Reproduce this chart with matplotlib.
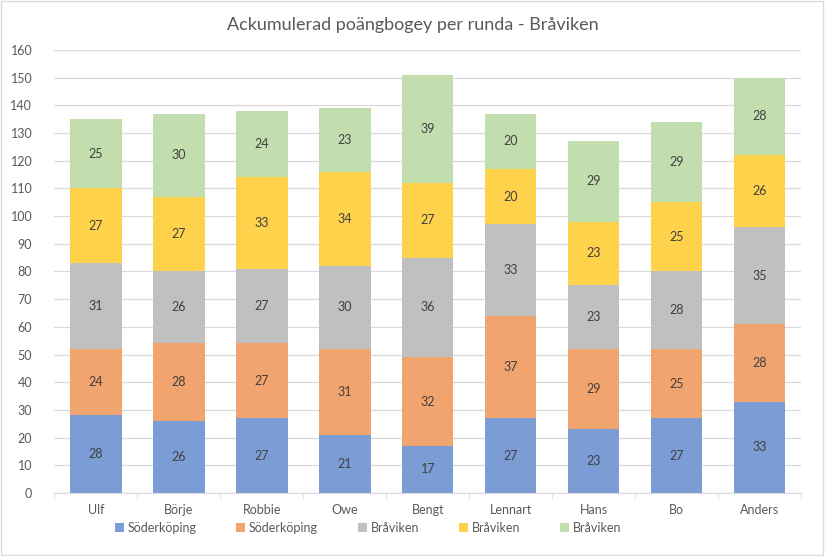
"""Ackumulerad poängbogey per runda - staplat stapeldiagram."""

import matplotlib.pyplot as plt
import numpy as np
from matplotlib.patches import Rectangle

spelare = ["Ulf", "Börje", "Robbie", "Owe", "Bengt", "Lennart", "Hans", "Bo", "Anders"]
serie_namn = ["Söderköping", "Söderköping", "Bråviken", "Bråviken", "Bråviken"]
soderkoping_1 = [28, 26, 27, 21, 17, 27, 23, 27, 33]
soderkoping_2 = [24, 28, 27, 31, 32, 37, 29, 25, 28]
braviken_1 = [31, 26, 27, 30, 36, 33, 23, 28, 35]
braviken_2 = [27, 27, 33, 34, 27, 20, 23, 25, 26]
braviken_3 = [25, 30, 24, 23, 39, 20, 29, 29, 28]
y_ticks = list(range(0, 161, 10))

FARGER = ["#7C9CD5", "#F2A46E", "#C0C0C0", "#FFD24C", "#C2DEAF"]
TEXT_FARG = "#595959"
GRID_FARG = "#D9D9D9"

plt.rcParams["font.family"] = ["Lato", "DejaVu Sans"]

fig = plt.figure(figsize=(8.25, 5.56), dpi=100)
ax = fig.add_axes([0.066, 0.1133, 0.905, 0.797])

serier = [soderkoping_1, soderkoping_2, braviken_1, braviken_2, braviken_3]
x = np.arange(len(spelare))
botten = np.zeros(len(spelare))
for varden, namn, farg in zip(serier, serie_namn, FARGER):
    varden = np.array(varden)
    bars = ax.bar(x, varden, bottom=botten, width=0.62, color=farg, label=namn, zorder=2)
    for rect, v in zip(bars, varden):
        ax.text(rect.get_x() + rect.get_width() / 2, rect.get_y() + v / 2, str(v),
                ha="center", va="center", fontsize=9, color="#404040", zorder=3)
    botten += varden

ax.set_xlim(-0.5, len(spelare) - 0.5)
ax.set_ylim(0, 160)
ax.set_yticks(y_ticks)
ax.set_xticks(x)
ax.set_xticklabels(spelare)
ax.set_xticks(np.arange(-0.5, len(spelare)), minor=True)
ax.tick_params(axis="x", which="major", length=0, colors=TEXT_FARG, labelsize=9, pad=8)
ax.tick_params(axis="x", which="minor", length=4, color=GRID_FARG)
ax.tick_params(axis="y", length=0, colors=TEXT_FARG, labelsize=9, pad=16)
ax.yaxis.grid(True, color=GRID_FARG, linewidth=0.9, zorder=0)
ax.set_axisbelow(True)
for side in ["top", "right", "left"]:
    ax.spines[side].set_visible(False)
ax.spines["bottom"].set_color(GRID_FARG)

fig.text(0.5, 0.955, "Ackumulerad poängbogey per runda - Bråviken", ha="center", va="center",
         fontsize=13, color=TEXT_FARG)

fig.legend(loc="center", bbox_to_anchor=(0.446, 0.05), ncol=5, frameon=False, fontsize=9,
           handlelength=0.7, handleheight=0.7, handletextpad=0.3, columnspacing=3.2,
           labelcolor=TEXT_FARG)

fig.patches.append(Rectangle((0.001, 0.001), 0.997, 0.997, transform=fig.transFigure,
                             fill=False, edgecolor=GRID_FARG, linewidth=1))

fig.savefig("out.png", dpi=100)
